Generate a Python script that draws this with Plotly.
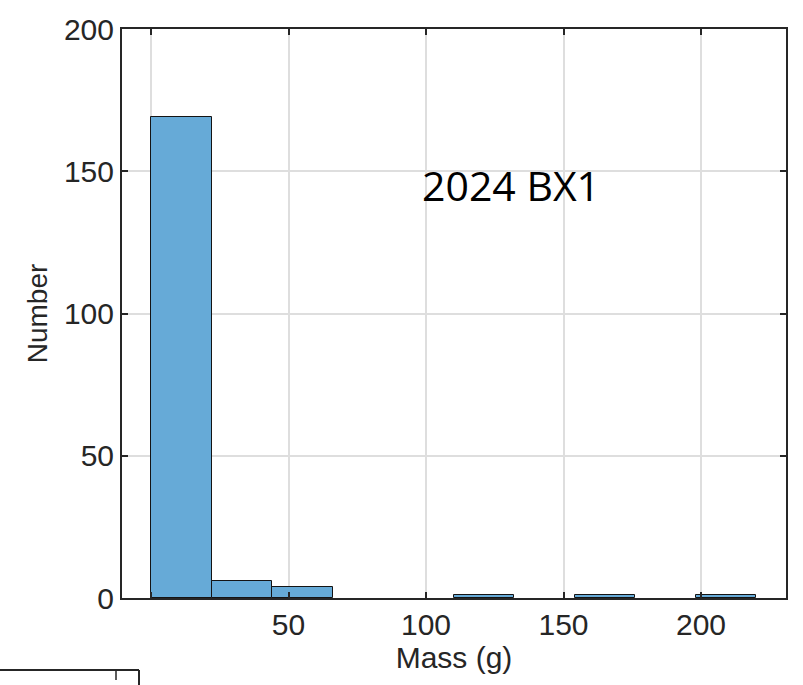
import plotly.graph_objects as go

# Histogram data (mass bins in grams, count per bin)
bin_edges = [0, 22, 44, 66, 88, 110, 132, 154, 176, 198, 220]
counts = [169, 6, 4, 0, 0, 1, 0, 1, 0, 1]

x_tickvals = [0, 50, 100, 150, 200]
x_ticktext = ["", "50", "100", "150", "200"]
y_tickvals = [0, 50, 100, 150, 200]
y_ticktext = ["0", "50", "100", "150", "200"]

centers, widths, heights = [], [], []
for a, b, c in zip(bin_edges[:-1], bin_edges[1:], counts):
    if c > 0:  # empty bins draw nothing
        centers.append((a + b) / 2)
        widths.append(b - a)
        heights.append(c)

W, H = 803, 685
L, R, T, B = 122, 17, 22, 87
pw, ph = W - L - R, H - T - B

fig = go.Figure()
fig.add_trace(go.Bar(
    x=centers, y=heights, width=widths,
    marker=dict(color="rgb(102,170,215)", line=dict(color="rgb(20,20,20)", width=1)),
    showlegend=False, hoverinfo="x+y",
))

font_fam = "Liberation Sans, Arial, sans-serif"
axis_common = dict(
    showline=True, linecolor="rgb(38,38,38)", linewidth=2, mirror="ticks",
    ticks="inside", ticklen=6, tickwidth=1.5, tickcolor="rgb(38,38,38)",
    showgrid=True, gridcolor="rgb(222,222,222)", gridwidth=1.5,
    zeroline=False,
    tickfont=dict(family=font_fam, size=30, color="rgb(38,38,38)"),
)

fig.update_layout(
    width=W, height=H,
    margin=dict(l=L, r=R, t=T, b=B),
    paper_bgcolor="white", plot_bgcolor="white",
    bargap=0,
    xaxis=dict(range=[-10.55, 230.9], tickvals=x_tickvals, ticktext=x_ticktext,
               ticklabelstandoff=-1,
               title=dict(text="Mass (g)", standoff=6,
                          font=dict(family=font_fam, size=30, color="rgb(38,38,38)")),
               **axis_common),
    yaxis=dict(range=[0, 200], tickvals=y_tickvals, ticktext=y_ticktext,
               title=dict(text="Number", standoff=8,
                          font=dict(family=font_fam, size=28, color="rgb(38,38,38)")),
               **axis_common),
    annotations=[dict(
        text="2024 BX1", x=(511 - L) / pw, y=(598 - 180) / ph, xref="paper", yref="paper",
        xanchor="center", yanchor="middle", showarrow=False,
        font=dict(family="Open Sans, sans-serif", size=41, color="black"),
    )],
)

# Fragment of a neighbouring panel cropped at the bottom-left
def px_x(p):
    return (p - L) / pw

def px_y(p):
    return (H - B - p) / ph

line_style = dict(color="rgb(38,38,38)", width=2)
fig.add_shape(type="line", xref="paper", yref="paper", x0=px_x(0), x1=px_x(139), y0=px_y(671), y1=px_y(671), line=line_style)
fig.add_shape(type="line", xref="paper", yref="paper", x0=px_x(139), x1=px_x(139), y0=px_y(671), y1=px_y(686), line=line_style)
fig.add_shape(type="line", xref="paper", yref="paper", x0=px_x(116), x1=px_x(116), y0=px_y(671), y1=px_y(681), line=dict(color="rgb(38,38,38)", width=1.5))

fig.write_html("out.html")
